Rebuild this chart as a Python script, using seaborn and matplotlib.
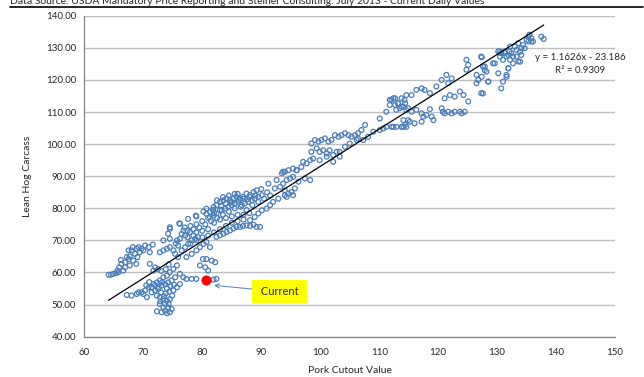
import pandas as pd
import matplotlib.pyplot as plt
import seaborn as sns
from matplotlib.lines import Line2D

# daily values (pork cutout, lean hog carcass)
arm = [(64.1, 59.3), (64.5, 59.3), (64.9, 59.6), (65.4, 59.8), (65.8, 60.1), (65.9, 61.6),
       (66.3, 62.7), (66.2, 63.9), (66.9, 63.2), (67.2, 64.8), (67.5, 64.2), (67.7, 65.0),
       (68.0, 66.9), (68.2, 67.9), (68.6, 65.8), (68.9, 67.4), (69.2, 67.9), (69.4, 66.3),
       (69.7, 67.4), (70.0, 66.9), (70.3, 68.4), (70.9, 67.9), (71.1, 66.3), (71.6, 68.7),
       (69.0, 64.8), (68.8, 62.7), (68.3, 63.7), (67.7, 62.2), (66.9, 61.6), (66.6, 60.6),
       (65.6, 60.6), (67.5, 66.9)]

mid = [(71.1, 62.7), (72.0, 61.6), (72.5, 61.1), (71.7, 60.6), (72.8, 66.3), (73.4, 66.9),
       (74.0, 67.4), (74.5, 67.9), (75.1, 66.9), (75.4, 65.8), (75.9, 64.8), (73.4, 70.0),
       (74.2, 72.1), (74.5, 73.6), (76.2, 75.2), (77.6, 76.7), (79.0, 77.5), (80.7, 78.3),
       (75.9, 68.4), (76.5, 66.9), (77.1, 67.9), (77.6, 68.9), (78.2, 70.0), (78.8, 70.5),
       (79.3, 71.0), (77.3, 64.8), (78.2, 65.8), (79.0, 66.9), (79.6, 67.9), (80.2, 68.9),
       (80.7, 69.5), (81.3, 67.9), (80.1, 64.2), (80.7, 64.2), (81.6, 63.7), (82.2, 63.2),
       (80.5, 61.6), (81.0, 60.6), (79.6, 62.2), (76.2, 70.5), (77.1, 71.5), (77.9, 72.6),
       (78.5, 71.5), (75.7, 70.0), (76.8, 73.1), (74.5, 74.1), (76.1, 75.3), (78.9, 77.7)]

low = [(68.0, 52.8), (68.9, 53.3), (69.7, 53.8), (70.3, 54.4), (70.9, 55.4), (71.7, 56.4),
       (72.3, 56.9), (72.8, 57.5), (73.4, 58.5), (74.0, 59.0), (74.5, 60.1), (75.1, 61.1),
       (75.7, 62.2), (76.2, 59.6), (76.8, 58.5), (77.3, 58.0), (78.2, 58.0), (79.0, 58.0),
       (81.9, 57.8), (82.4, 58.0), (71.4, 55.4), (72.0, 54.4), (72.5, 54.9), (73.1, 55.9),
       (73.7, 56.4), (74.2, 56.9), (74.8, 57.5), (75.4, 58.5), (72.3, 52.8), (72.8, 52.3),
       (73.4, 51.7), (74.0, 51.2), (74.5, 51.7), (72.8, 50.2), (73.4, 49.1), (73.7, 48.1),
       (73.1, 47.6), (74.0, 47.3), (74.5, 47.6), (74.8, 48.6), (72.3, 47.9), (74.2, 49.1),
       (73.7, 50.2), (75.1, 54.4), (75.7, 55.4), (76.2, 56.4), (69.2, 53.8), (70.6, 52.3),
       (70.0, 53.3), (71.4, 53.8), (72.0, 56.0), (72.6, 55.5), (73.2, 57.0), (73.8, 53.5),
       (74.4, 54.0), (73.0, 53.8), (74.0, 55.0), (74.6, 55.8), (75.2, 56.2), (72.9, 51.0),
       (74.3, 50.2), (73.5, 52.6), (74.9, 52.8), (67.2, 53.0), (71.0, 57.0), (70.5, 56.0),
       (73.0, 60.5), (73.8, 61.0), (74.3, 62.5)]

band = [(80.7, 79.9), (81.3, 78.9), (81.9, 80.4), (82.4, 81.0), (83.0, 82.0), (83.6, 82.5),
        (84.1, 83.0), (84.7, 82.5), (85.3, 83.0), (85.8, 83.6), (86.4, 83.0), (86.9, 83.6),
        (87.5, 84.6), (88.1, 84.1), (88.7, 85.1), (89.2, 85.6), (81.3, 77.3), (81.9, 77.8),
        (82.4, 78.4), (83.3, 79.4), (83.9, 79.9), (84.4, 80.4), (85.0, 81.0), (85.5, 81.5),
        (86.1, 82.0), (86.7, 81.0), (87.2, 81.5), (87.8, 82.0), (88.4, 82.5), (88.9, 83.0),
        (89.5, 83.6), (90.1, 84.1), (82.4, 71.1), (83.0, 71.6), (83.6, 72.1), (84.1, 72.6),
        (84.7, 73.1), (85.3, 73.7), (85.8, 74.2), (86.4, 74.2), (86.9, 74.5), (87.5, 74.7),
        (88.1, 74.5), (88.7, 74.9), (89.2, 74.2), (89.8, 74.2), (88.1, 76.3), (88.9, 77.3),
        (89.5, 78.4), (90.1, 79.4), (90.9, 79.9), (91.5, 81.0), (92.0, 82.0), (91.2, 87.7),
        (92.6, 88.8), (93.7, 91.4), (94.6, 91.9), (95.4, 92.4), (96.0, 91.9), (92.3, 86.2),
        (94.0, 84.1), (92.9, 83.0)]

band_fill = [(77.0, 74.0), (77.5, 73.0), (78.0, 74.5), (78.5, 73.5), (79.0, 75.0), (79.5, 74.0),
             (80.0, 76.0), (80.5, 75.0), (81.0, 77.0), (81.5, 76.0), (82.0, 78.5), (82.5, 77.0),
             (83.0, 79.5), (83.5, 78.0), (84.0, 81.5), (84.5, 79.0), (85.0, 82.0), (85.5, 80.0),
             (86.0, 84.5), (86.5, 80.5), (87.0, 83.0), (87.5, 79.5), (88.0, 83.5), (88.5, 81.0),
             (89.0, 84.0), (89.5, 82.0), (90.0, 86.0), (90.5, 83.0), (91.0, 85.0), (91.5, 84.0),
             (80.2, 79.0), (81.8, 79.5), (83.2, 80.8), (84.8, 81.8), (86.2, 82.6), (87.6, 82.8),
             (82.0, 75.5), (83.0, 76.5), (84.0, 77.0), (85.0, 77.5), (86.0, 78.0), (87.0, 78.0),
             (88.0, 78.5), (79.0, 72.5), (80.0, 73.0), (81.0, 73.5), (82.0, 72.5), (83.0, 73.5),
             (84.0, 74.5), (85.0, 75.5), (86.0, 76.0), (87.0, 76.5), (78.0, 69.0), (79.0, 70.0),
             (80.0, 71.0), (81.0, 71.5), (77.5, 71.0), (76.5, 72.0), (75.5, 69.0), (74.5, 70.5),
             (85.5, 84.5), (84.5, 84.0), (83.5, 83.5), (82.5, 82.5)]

upper_mid = [(93.2, 86.7), (93.7, 87.7), (94.3, 88.8), (94.9, 89.3), (95.4, 89.8), (94.0, 85.6),
             (94.6, 84.6), (95.1, 85.1), (95.7, 86.2), (93.5, 90.9), (94.0, 91.4), (96.0, 91.9),
             (96.8, 92.9), (97.1, 94.5), (97.7, 94.0), (98.3, 95.0), (96.3, 88.3), (97.4, 89.3),
             (98.3, 88.8), (94.3, 83.6), (95.4, 84.1), (98.5, 100.2), (99.1, 101.3), (99.7, 100.8),
             (100.2, 101.3), (100.8, 101.8), (101.4, 100.8), (101.9, 101.3), (102.5, 102.8),
             (103.1, 102.3), (103.6, 102.8), (104.2, 103.4), (104.8, 102.8), (105.3, 102.3),
             (105.9, 102.8), (106.4, 103.4), (107.0, 104.4), (107.6, 106.0), (98.5, 97.6),
             (99.4, 98.7), (99.9, 97.6), (100.5, 98.1), (101.1, 97.1), (101.6, 98.1), (102.2, 96.6),
             (102.8, 97.6), (103.3, 96.1), (104.2, 99.2), (105.0, 100.2), (106.2, 101.3),
             (98.8, 95.5), (99.9, 95.0), (101.1, 96.1), (102.2, 94.5), (103.3, 97.6), (106.4, 101.8),
             (107.3, 101.3), (108.1, 102.3), (109.0, 103.9), (110.1, 104.4), (110.7, 104.9),
             (111.2, 105.4), (112.1, 105.4), (112.9, 105.4), (113.8, 105.4), (114.4, 106.0),
             (110.1, 108.0), (111.2, 110.1), (111.8, 112.2), (112.1, 113.8), (112.7, 114.3),
             (113.2, 112.7), (113.8, 111.7), (114.4, 112.7), (114.6, 110.6), (114.9, 107.5),
             (113.5, 111.2)]

upper = [(111.8, 113.8), (112.4, 114.3), (112.7, 112.2), (113.2, 112.7), (113.8, 114.3),
         (114.3, 113.8), (114.6, 115.3), (115.5, 115.3), (116.3, 116.9), (117.2, 117.4),
         (117.7, 116.9), (118.6, 115.9), (114.1, 111.7), (114.9, 111.2), (115.5, 110.1),
         (116.3, 110.7), (117.2, 109.6), (117.5, 108.6), (118.0, 109.1), (114.1, 107.5),
         (115.2, 107.0), (116.0, 106.5), (117.2, 107.0), (118.9, 108.6), (119.2, 107.5),
         (112.9, 110.7), (114.1, 105.4), (114.6, 105.4), (112.4, 105.4), (118.6, 110.9),
         (120.6, 111.2), (120.8, 110.1), (121.1, 109.6), (121.7, 110.1), (122.3, 109.6),
         (122.8, 110.1), (123.7, 110.1), (124.0, 109.6), (124.5, 110.1), (121.1, 114.3),
         (122.0, 115.3), (122.8, 114.8), (123.7, 116.4), (124.3, 115.3), (125.1, 113.3),
         (121.7, 119.0), (122.3, 120.5), (121.4, 121.6), (120.6, 120.0), (119.7, 118.0),
         (124.8, 126.3), (125.1, 124.7), (124.8, 123.2), (127.3, 127.3), (127.9, 124.2),
         (128.2, 122.6), (126.5, 121.6), (126.8, 120.0), (126.5, 119.0), (128.5, 119.5),
         (127.3, 115.9), (129.3, 125.2), (130.2, 122.1), (131.0, 119.5), (130.7, 117.4),
         (131.6, 121.6), (131.9, 123.7), (130.5, 128.9), (131.3, 128.4), (132.1, 128.9),
         (133.3, 127.3), (133.6, 125.8)]

top = [(127.4, 127.1), (127.6, 124.2), (127.9, 123.1), (128.5, 119.5), (127.4, 121.0),
       (127.6, 115.8), (129.6, 125.2), (130.2, 128.9), (130.7, 128.3), (131.0, 126.3),
       (131.6, 127.3), (131.9, 127.8), (132.2, 126.3), (132.4, 128.3), (132.7, 127.3),
       (133.0, 130.4), (133.3, 129.4), (133.9, 128.8), (134.1, 127.8), (134.4, 130.9),
       (134.7, 129.9), (135.0, 132.5), (135.3, 133.5), (135.5, 134.1), (135.8, 133.0),
       (136.1, 132.0), (137.5, 133.5), (137.9, 132.8), (131.9, 123.6), (131.6, 121.0),
       (133.9, 125.7), (132.7, 125.2), (130.5, 127.3), (131.3, 128.9), (132.2, 130.4),
       (133.6, 131.5), (134.1, 129.9), (135.3, 132.0), (135.8, 132.0)]

current = (80.6, 57.7)

# trendline as reported on the chart
slope = 1.1626
intercept = -23.186
r_squared = 0.9309

segments = [arm, mid, low, band, band_fill, upper_mid, upper, top]
rows = [p for seg in segments for p in seg]
df = pd.DataFrame(rows, columns=['cutout', 'carcass'])

sns.set_style('white')
plt.rcParams['font.family'] = ['Lato', 'DejaVu Sans']

fig = plt.figure(figsize=(6.44, 3.77), dpi=100)
ax = fig.add_axes([0.131, 0.107, 0.824, 0.851])

# gridlines
ax.set_axisbelow(True)
ax.yaxis.grid(True, color='#BEBEBE', linewidth=1.0)
ax.xaxis.grid(False)

sns.scatterplot(data=df, x='cutout', y='carcass', ax=ax, marker='o', s=12,
                facecolor='none', edgecolor='#4A7EBB', linewidth=0.9, zorder=3)

# linear trendline over the data range
xs = pd.Series([df['cutout'].min(), df['cutout'].max()])
sns.lineplot(x=xs, y=slope * xs + intercept, ax=ax, color='black', linewidth=0.9, zorder=4)

sns.scatterplot(x=[current[0]], y=[current[1]], ax=ax, color='#FF0000', s=45,
                edgecolor='#FF0000', zorder=5)

ax.annotate(' Current ', xy=(82.0, 56.0), xytext=(93.1, 54.0), fontsize=8,
            ha='center', va='center',
            bbox=dict(boxstyle='square,pad=0.55', fc='#FFFF00', ec='none'),
            arrowprops=dict(arrowstyle='->', color='#4F81BD', lw=0.7,
                            shrinkA=0, shrinkB=0))

ax.text(144.1, 127.0, 'y = 1.1626x - 23.186', fontsize=7, ha='center', va='center',
        clip_on=False)
ax.text(144.1, 123.1, f'R² = {r_squared:.4f}', fontsize=7, ha='center', va='center',
        clip_on=False)

ax.set_xlim(60, 150)
ax.set_ylim(40, 140)
ax.set_xticks(range(60, 151, 10))
ax.set_yticks(range(40, 141, 10))
ax.set_yticklabels([f'{v:.2f}' for v in range(40, 141, 10)])
ax.tick_params(axis='both', labelsize=7, direction='out', length=3, width=0.8,
               color='#868686', pad=3)
ax.tick_params(axis='x', pad=5)

for side in ['top', 'right']:
    ax.spines[side].set_visible(False)
for side in ['left', 'bottom']:
    ax.spines[side].set_color('#868686')
    ax.spines[side].set_linewidth(0.9)

ax.set_xlabel('Pork Cutout Value', fontsize=7.5, labelpad=7)
ax.set_ylabel('Lean Hog Carcass', fontsize=7.5, labelpad=10)

# header cut off at the top of the image
fig.text(0.015, 0.989, 'Data Source: USDA Mandatory Price Reporting and Steiner Consulting. '
         'July 2013 - Current Daily Values', fontsize=7.5, va='baseline')
fig.add_artist(Line2D([0.015, 0.998], [0.982, 0.982], color='black', linewidth=1.2))

fig.savefig('out.png', dpi=100)
